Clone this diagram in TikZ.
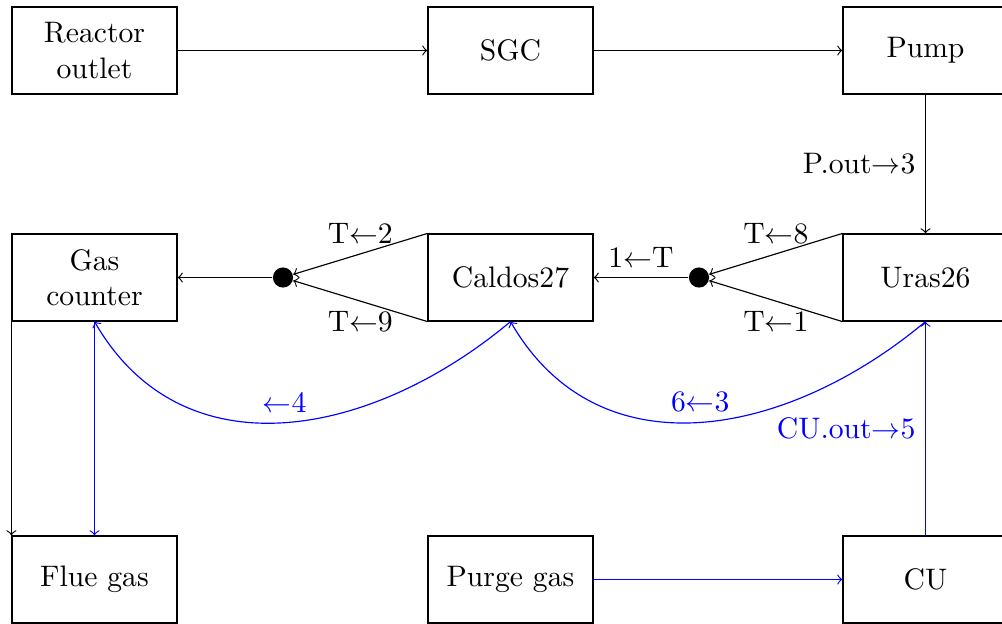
\documentclass[tikz,border=0pt]{standalone}
\begin{document}
\begin{tikzpicture}[x=0.3472pt,y=0.3472pt,
 every node/.style={font=\fontsize{10.3pt}{12.2pt}\selectfont},
 box/.style={draw, minimum width=57.3pt, minimum height=30.2pt, align=center, inner sep=2pt},
 dot/.style={circle, fill, minimum size=7pt, inner sep=0pt},
 arr/.style={->},
 barr/.style={->, draw=blue, text=blue}]
\useasboundingbox (0,0) rectangle (1002,623);
\node[box] (ro) at (94.5,572.5) {Reactor\\outlet};
\node[box] (sgc) at (510.5,572.5) {SGC};
\node[box] (pump) at (925.5,572.5) {Pump};
\node[box] (gc) at (94.5,345.5) {Gas\\counter};
\node[box] (cal) at (510.5,345.5) {Caldos27};
\node[box] (uras) at (925.5,345.5) {Uras26};
\node[box] (flue) at (94.5,43.5) {Flue gas};
\node[box] (purge) at (510.5,43.5) {Purge gas};
\node[box] (cu) at (925.5,43.5) {CU};
\node[dot] (j1) at (283,345.5) {};
\node[dot] (j2) at (699,345.5) {};
\draw[arr] (ro) -- (sgc);
\draw[arr] (sgc) -- (pump);
\draw[arr] (pump) -- node[left]{P.out$\to$3} (uras);
\draw[arr] (uras.north west) -- node[above]{T$\leftarrow$8} (j2);
\draw[arr] (uras.south west) -- node[below]{T$\leftarrow$1} (j2);
\draw[arr] (j2) -- node[above]{1$\leftarrow$T} (cal);
\draw[arr] (cal.north west) -- node[above]{T$\leftarrow$2} (j1);
\draw[arr] (cal.south west) -- node[below]{T$\leftarrow$9} (j1);
\draw[arr] (j1) -- (gc);
\draw[arr] (gc.south west) -- (flue.north west);
\draw[barr] (gc) -- (flue);
\draw[barr] (uras.south) to[out=-140,in=-60,looseness=1.1] node[above]{6$\leftarrow$3} (cal.south);
\draw[barr] (cal.south) to[out=-140,in=-60,looseness=1.1] node[above]{$\leftarrow$4} (gc.south);
\draw[barr] (purge) -- (cu);
\draw[barr] (cu.north) -- node[left]{CU.out$\to$5} (uras.south);
\end{tikzpicture}
\end{document}
